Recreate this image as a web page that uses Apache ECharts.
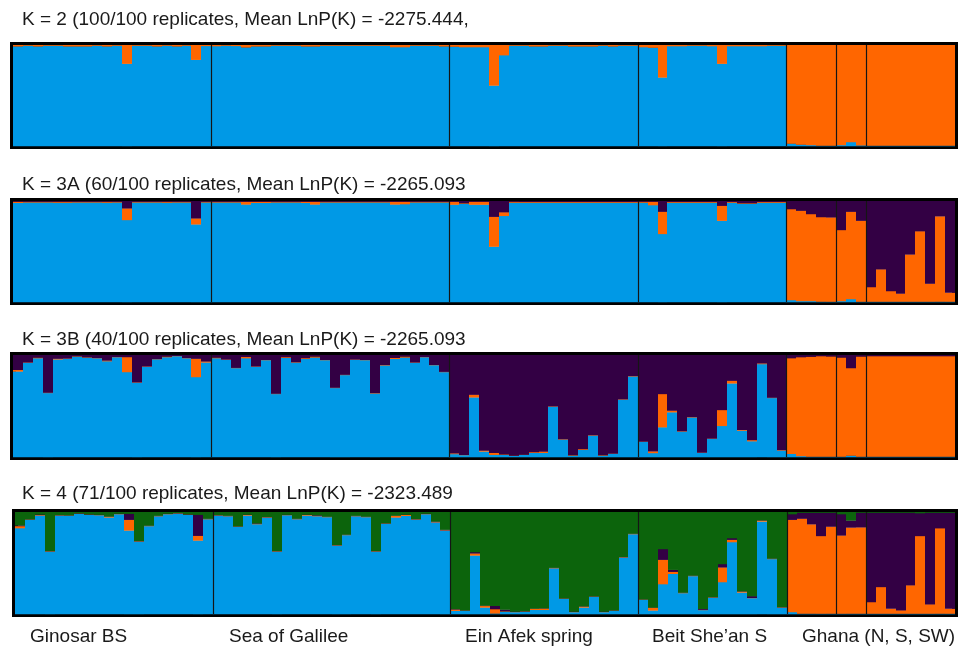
<!DOCTYPE html>
<html><head><meta charset="utf-8">
<script src="https://cdn.jsdelivr.net/npm/echarts@6/dist/echarts.min.js"></script>
<style>html,body{margin:0;padding:0;background:#fff}#chart{width:958px;height:651px}</style>
</head><body><div id="chart"></div>
<script>
// ---- populations ----
const popNames = ['Ginosar BS', 'Sea of Galilee', 'Ein Afek spring', 'Beit She\u2019an S', 'Ghana (N, S, SW)'];
const popBreaks = [20, 44, 63, 78, 83, 86];   // individual index where a new population starts
const nInd = 95;
const titles = [
  'K = 2 (100/100 replicates, Mean LnP(K) = -2275.444,',
  'K = 3A (60/100 replicates, Mean LnP(K) = -2265.093',
  'K = 3B (40/100 replicates, Mean LnP(K) = -2265.093',
  'K = 4 (71/100 replicates, Mean LnP(K) = -2323.489'
];
const colBlue = '#0099e6', colOrange = '#ff6600', colDark = '#330044', colGreen = '#0c640c';

// ---- K = 2 ----
const k2Blue = [
 .988,.995,.988,.995,.995,.988,.988,.988,.995,.988,.995,.816,.995,.995,.988,.995,.988,.995,.855,.992,
 .990,.995,.992,.978,.988,.988,.995,.995,.995,.988,.988,.995,.995,.995,.995,.995,.995,.995,.980,.980,.995,.995,.995,.988,
 .985,.980,.980,.980,.600,.900,.995,.995,.988,.988,.995,.995,.988,.988,.988,.995,.988,.995,.995,
 .980,.975,.680,.990,.990,.995,.995,.990,.816,.990,.990,.990,.990,.995,.995,
 .026,.016,.010,.005,.005,.010,.040,.008,.005,.005,.005,.005,.005,.005,.005,.005,.005];
const k2Orange = [
 .012,.005,.012,.005,.005,.012,.012,.012,.005,.012,.005,.184,.005,.005,.012,.005,.012,.005,.145,.008,
 .010,.005,.008,.022,.012,.012,.005,.005,.005,.012,.012,.005,.005,.005,.005,.005,.005,.005,.020,.020,.005,.005,.005,.012,
 .015,.020,.020,.020,.400,.100,.005,.005,.012,.012,.005,.005,.012,.012,.012,.005,.012,.005,.005,
 .020,.025,.320,.010,.010,.005,.005,.010,.184,.010,.010,.010,.010,.005,.005,
 .974,.984,.990,.995,.995,.990,.960,.992,.995,.995,.995,.995,.995,.995,.995,.995,.995];

// ---- K = 3A ----
const k3aBlue = [
 .983,.987,.987,.987,.985,.985,.987,.987,.987,.985,.987,.813,.987,.987,.987,.985,.987,.987,.770,.987,
 .987,.987,.987,.967,.983,.983,.987,.987,.987,.983,.967,.987,.987,.987,.987,.987,.987,.987,.967,.970,.987,.987,.987,.987,
 .965,.975,.965,.965,.550,.854,.985,.985,.985,.985,.985,.985,.985,.985,.985,.985,.985,.985,.985,
 .985,.960,.675,.985,.985,.985,.985,.985,.806,.985,.975,.975,.985,.985,.985,
 .020,.010,.010,.005,.005,.010,.030,.005,.005,.005,.005,.005,.005,.005,.005,.005,.005];
const k3aOrange = [
 .012,.008,.008,.008,.010,.010,.008,.008,.008,.010,.008,.115,.008,.008,.008,.010,.008,.008,.059,.008,
 .008,.008,.008,.028,.012,.012,.008,.008,.008,.012,.028,.008,.008,.008,.008,.008,.008,.008,.028,.025,.008,.008,.008,.008,
 .030,.005,.030,.030,.296,.036,.010,.008,.008,.008,.008,.008,.008,.008,.008,.008,.008,.008,.008,
 .010,.035,.220,.008,.008,.008,.008,.008,.148,.008,.005,.005,.008,.008,.008,
 .901,.895,.862,.837,.834,.704,.865,.801,.145,.320,.105,.080,.467,.697,.178,.845,.089];
const k3aDark = [
 .005,.005,.005,.005,.005,.005,.005,.005,.005,.005,.005,.072,.005,.005,.005,.005,.005,.005,.171,.005,
 .005,.005,.005,.005,.005,.005,.005,.005,.005,.005,.005,.005,.005,.005,.005,.005,.005,.005,.005,.005,.005,.005,.005,.005,
 .005,.020,.005,.005,.155,.110,.005,.007,.007,.007,.007,.007,.007,.007,.007,.007,.007,.007,.007,
 .005,.005,.105,.007,.007,.007,.007,.007,.046,.007,.020,.020,.007,.007,.007,
 .079,.095,.128,.158,.161,.286,.105,.194,.850,.675,.890,.915,.528,.298,.817,.150,.906];

// ---- K = 3B ----
const k3bBlue = [
 .840,.925,.970,.629,.958,.964,.987,.977,.970,.940,.980,.834,.730,.886,.960,.980,.990,.970,.785,.928,
 .970,.954,.873,.970,.886,.951,.619,.974,.928,.964,.977,.951,.678,.805,.954,.951,.625,.900,.964,.977,.925,.980,.902,.834,
 .030,.020,.586,.055,.023,.023,.013,.023,.042,.042,.495,.173,.016,.072,.212,.016,.033,.564,.792,
 .150,.040,.293,.440,.251,.390,.042,.179,.306,.723,.260,.156,.912,.580,.065,
 .033,.010,.005,.005,.005,.005,.015,.005,.005,.005,.005,.005,.005,.005,.005,.005,.005];
const k3bOrange = [
 .016,.003,.007,.003,.007,.003,.003,.003,.003,.007,.003,.147,.003,.003,.003,.007,.003,.003,.180,.010,
 .007,.003,.003,.013,.003,.003,.003,.007,.003,.007,.010,.003,.003,.003,.003,.003,.003,.003,.010,.010,.003,.003,.003,.003,
 .007,.003,.026,.010,.020,.005,.003,.003,.007,.013,.003,.003,.003,.007,.003,.003,.003,.003,.003,
 .003,.016,.326,.016,.003,.003,.003,.003,.156,.026,.007,.010,.007,.003,.003,
 .937,.970,.980,.985,.983,.972,.858,.982,.985,.985,.985,.985,.985,.985,.985,.985,.985];
const k3bDark = [
 .144,.072,.023,.368,.035,.033,.010,.020,.027,.053,.017,.019,.267,.111,.037,.013,.007,.027,.035,.062,
 .023,.043,.124,.017,.111,.046,.378,.019,.069,.029,.013,.046,.319,.192,.043,.046,.372,.097,.026,.013,.072,.017,.095,.163,
 .963,.977,.388,.935,.957,.972,.984,.974,.951,.945,.502,.824,.981,.921,.785,.981,.964,.433,.205,
 .847,.944,.381,.544,.746,.607,.955,.818,.538,.251,.733,.834,.081,.417,.932,
 .030,.020,.015,.010,.012,.023,.127,.013,.010,.010,.010,.010,.010,.010,.010,.010,.010];

// ---- K = 4 ----
const k4Blue = [
 .843,.925,.967,.614,.967,.964,.984,.974,.970,.948,.980,.820,.712,.863,.960,.980,.987,.974,.722,.931,
 .967,.960,.856,.967,.882,.948,.614,.970,.931,.967,.960,.951,.673,.775,.960,.951,.614,.886,.948,.964,.928,.980,.900,.820,
 .033,.033,.575,.065,.007,.026,.020,.026,.042,.042,.450,.150,.020,.065,.170,.020,.033,.556,.784,
 .140,.036,.294,.395,.206,.373,.040,.163,.314,.706,.212,.157,.908,.540,.065,
 .020,.005,.005,.005,.005,.005,.005,.005,.005,.005,.005,.005,.005,.005,.005,.005,.005];
const k4Orange = [
 .020,.003,.005,.003,.003,.003,.003,.003,.003,.007,.003,.105,.003,.003,.003,.003,.003,.003,.046,.003,
 .003,.003,.003,.007,.003,.003,.003,.003,.003,.007,.005,.003,.003,.003,.003,.003,.003,.003,.016,.010,.003,.003,.003,.003,
 .013,.003,.020,.016,.042,.003,.003,.003,.010,.013,.003,.003,.003,.010,.003,.003,.003,.003,.003,
 .003,.026,.239,.020,.003,.003,.003,.003,.144,.023,.010,.003,.010,.003,.003,
 .905,.931,.876,.761,.853,.766,.844,.846,.114,.261,.049,.033,.278,.761,.092,.837,.049];
const k4Dark = [
 .007,.002,.005,.002,.002,.002,.002,.002,.002,.002,.002,.059,.002,.002,.002,.002,.002,.002,.206,.002,
 .002,.002,.002,.002,.005,.002,.002,.002,.002,.002,.005,.002,.002,.002,.002,.002,.002,.002,.002,.002,.002,.002,.005,.005,
 .003,.002,.013,.003,.033,.016,.002,.002,.002,.002,.002,.002,.002,.002,.002,.002,.002,.002,.002,
 .002,.003,.105,.020,.002,.002,.010,.002,.033,.016,.002,.016,.002,.002,.002,
 .055,.059,.114,.229,.137,.209,.069,.144,.876,.729,.941,.957,.712,.224,.898,.153,.941];
const k4Green = [
 .130,.070,.023,.381,.028,.031,.011,.021,.025,.043,.015,.016,.283,.132,.035,.015,.008,.021,.026,.064,
 .028,.035,.139,.024,.110,.047,.381,.025,.064,.024,.030,.044,.322,.220,.035,.044,.381,.109,.034,.024,.067,.015,.092,.172,
 .951,.962,.392,.916,.918,.955,.975,.969,.946,.943,.545,.845,.975,.923,.825,.975,.962,.439,.211,
 .855,.935,.362,.565,.789,.622,.947,.832,.509,.255,.776,.824,.080,.455,.930,
 .020,.005,.005,.005,.005,.020,.082,.005,.005,.005,.005,.005,.005,.010,.005,.005,.005];

const panels = [
  {clusters: [k2Blue, k2Orange], colors: [colBlue, colOrange], left: 13, top: 45, width: 942, height: 101, titleY: 21},
  {clusters: [k3aBlue, k3aOrange, k3aDark], colors: [colBlue, colOrange, colDark], left: 13, top: 201, width: 942, height: 101, titleY: 186},
  {clusters: [k3bBlue, k3bOrange, k3bDark], colors: [colBlue, colOrange, colDark], left: 13, top: 355, width: 942, height: 102, titleY: 341},
  {clusters: [k4Blue, k4Orange, k4Dark, k4Green], colors: [colBlue, colOrange, colDark, colGreen], left: 15, top: 512, width: 940, height: 102, titleY: 495}
];
const labelX = [30, 229, 465, 652, 802];

const chart = echarts.init(document.getElementById('chart'), null, {renderer: 'canvas'});
const grids = [], xAxes = [], yAxes = [], series = [], graphics = [];
const font = '19px "Liberation Sans", Arial, sans-serif';

panels.forEach((p, k) => {
  grids.push({left: p.left, top: p.top, width: p.width, height: p.height, show: true,
              borderColor: '#000', borderWidth: 6, backgroundColor: 'transparent', containLabel: false});
  xAxes.push({type: 'value', gridIndex: k, min: 0, max: nInd, show: false});
  yAxes.push({type: 'value', gridIndex: k, min: 0, max: 1, show: false});
  const data = [];
  for (let i = 0; i < nInd; i++) {
    const row = [i];
    p.clusters.forEach(c => row.push(c[i]));
    data.push(row);
  }
  const nc = p.clusters.length;
  series.push({
    type: 'custom', xAxisIndex: k, yAxisIndex: k, data: data, z: 2, silent: true,
    encode: {x: 0, y: 1},
    renderItem: function (params, api) {
      const i = api.value(0);
      const vals = [];
      let sum = 0;
      for (let c = 0; c < nc; c++) { const v = api.value(c + 1); vals.push(v); sum += v; }
      let acc = 0;
      const children = [];
      vals.forEach((v, c) => {
        const y0 = acc / sum, y1 = (acc + v) / sum;
        acc += v;
        const a = api.coord([i, y1]), b = api.coord([i + 1, y0]);
        const xl = Math.round(a[0]), xr = Math.round(b[0]);
        children.push({type: 'rect', shape: {x: xl, y: a[1], width: xr - xl, height: b[1] - a[1] + 0.3},
                       style: {fill: p.colors[c]}});
      });
      return {type: 'group', children: children};
    }
  });
  series.push({
    type: 'custom', xAxisIndex: k, yAxisIndex: k, z: 3, silent: true,
    data: popBreaks.map(b => [b, 0, 1]),
    encode: {x: 0, y: 1},
    renderItem: function (params, api) {
      const a = api.coord([api.value(0), api.value(2)]);
      const b = api.coord([api.value(0), api.value(1)]);
      const x = Math.round(a[0]) + 0.5;
      return {type: 'line', shape: {x1: x, y1: a[1], x2: x, y2: b[1]},
              style: {stroke: '#151515', lineWidth: 1.2}};
    }
  });
  graphics.push({type: 'text', left: 22, top: p.titleY - 11,
                 style: {text: titles[k], font: font, fill: '#1a1a1a'}});
});
popNames.forEach((n, j) => {
  graphics.push({type: 'text', left: labelX[j], top: 627,
                 style: {text: n, font: font, fill: '#1a1a1a'}});
});

chart.setOption({
  animation: false,
  backgroundColor: '#ffffff',
  grid: grids, xAxis: xAxes, yAxis: yAxes, series: series, graphic: graphics
});
</script>
</body></html>
